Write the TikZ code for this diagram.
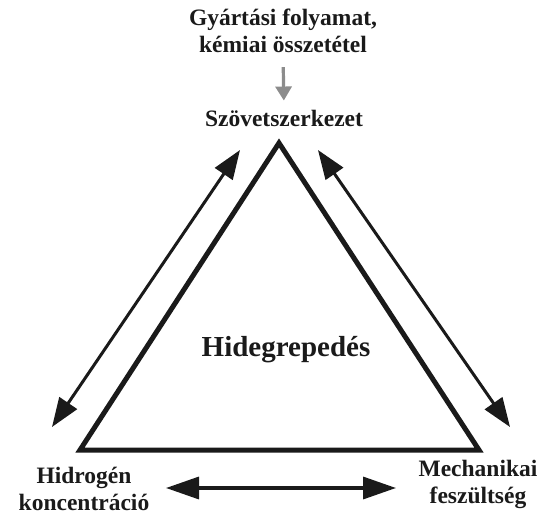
\documentclass[tikz,border=0pt]{standalone}
\usepackage{fontspec}
\setmainfont{Liberation Serif}
\usetikzlibrary{arrows.meta,positioning}
\definecolor{ink}{HTML}{1A1A1A}
\definecolor{inkgray}{HTML}{8C8C8C}
\tikzset{
  lbl/.style={font=\fontsize{23.5}{27}\selectfont\bfseries,text=ink,
              align=center,inner sep=0pt},
  biglbl/.style={font=\fontsize{29}{34}\selectfont\bfseries,text=ink,
                 inner sep=0pt},
  sidearr/.style={{Triangle[length=29pt,width=21pt]}-{Triangle[length=29pt,width=21pt]},
                  line width=3pt,draw=ink},
  basearr/.style={{Triangle[length=33pt,width=22pt]}-{Triangle[length=33pt,width=22pt]},
                  line width=3.4pt,draw=ink},
  grayarr/.style={-{Triangle[length=14pt,width=16pt]},line width=3.2pt,
                  draw=inkgray},
  tri/.style={draw=ink,line width=5pt,miter limit=20}
}
\begin{document}
\begin{tikzpicture}[x=1pt,y=-1pt]
    \path[use as bounding box,fill=white] (0,0) rectangle (542,517);

    % labels
    \node[lbl] (process) at (283,31)
      {Gyártási folyamat,\\kémiai összetétel};
    \node[lbl] (micro) at (284,118) {Szövetszerkezet};
    \node[lbl] (hydrogen) at (84,489) {Hidrogén\\koncentráció};
    \node[lbl] (stress) at (478,484) {Mechanikai\\feszültség};
    \node[biglbl] (crack) at (286,350) {Hidegrepedés};

    % triangle corners
    \coordinate (top) at (279,143);
    \coordinate (left) at (80,450);
    \coordinate (right) at (479,450);
    \draw[tri] (top) -- (left) -- (right) -- cycle;

    % arrow ends
    \coordinate (lu) at (240,150);
    \coordinate (ld) at (52,427);
    \coordinate (ru) at (318,150);
    \coordinate (rd) at (510,427);
    \coordinate (bl) at (166,488);
    \coordinate (br) at (396,488);
    \draw[sidearr] (ld) -- (lu);
    \draw[sidearr] (ru) -- (rd);
    \draw[basearr] (bl) -- (br);
    \draw[grayarr,shorten <=14pt,shorten >=9pt] (process.south) -- (micro.north);
\end{tikzpicture}
\end{document}
